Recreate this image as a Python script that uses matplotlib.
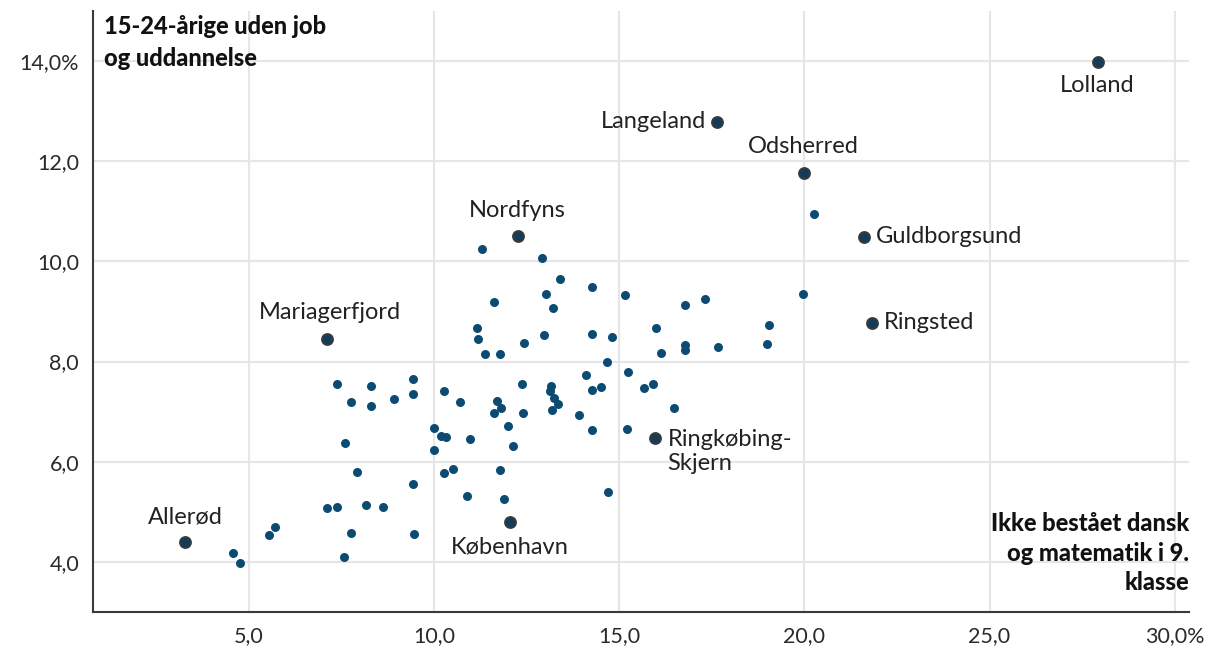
import matplotlib.pyplot as plt

plt.rcParams['font.family'] = ['Lato', 'DejaVu Sans']

# ikke bestaaet dansk og matematik (%), 15-24-aarige uden job og uddannelse (%)
base_x = [7.38, 8.31, 9.43, 7.76, 8.31, 8.91, 9.43, 10.26, 10.69, 9.99, 10.19, 10.33, 10.96,
          7.59, 7.93, 9.43, 10.26, 10.51, 10.90, 7.12, 7.38, 8.15, 8.63, 5.71, 5.55, 7.75,
          9.47, 4.57, 4.76, 7.57, 9.99,
          11.29, 12.91, 13.39, 14.26, 15.15, 13.03, 11.62, 13.20, 16.79, 17.31, 19.05, 19.00,
          11.16, 11.19, 11.37, 11.78, 12.44, 12.98, 14.26, 14.80, 15.99, 16.14, 16.79, 16.78,
          17.66, 14.66, 14.10, 15.24, 14.50, 14.27, 15.66, 15.91, 16.47, 12.37, 13.16, 13.12,
          13.23, 13.34, 13.19, 11.70, 11.80, 11.62, 12.39, 13.91, 12.00, 14.26, 15.21, 12.12,
          11.79, 11.88, 14.71, 20.27, 19.96]
base_y = [7.56, 7.51, 7.65, 7.20, 7.11, 7.25, 7.36, 7.42, 7.19, 6.68, 6.52, 6.50, 6.46,
          6.38, 5.80, 5.55, 5.78, 5.86, 5.31, 5.08, 5.10, 5.13, 5.10, 4.70, 4.54, 4.58,
          4.55, 4.18, 3.98, 4.10, 6.24,
          10.25, 10.07, 9.65, 9.48, 9.32, 9.35, 9.18, 9.07, 9.13, 9.25, 8.72, 8.36,
          8.67, 8.46, 8.15, 8.15, 8.37, 8.54, 8.55, 8.50, 8.66, 8.17, 8.33, 8.23,
          8.29, 8.00, 7.73, 7.80, 7.50, 7.44, 7.48, 7.56, 7.08, 7.55, 7.51, 7.42,
          7.28, 7.16, 7.03, 7.22, 7.08, 6.98, 6.98, 6.94, 6.71, 6.63, 6.66, 6.31,
          5.84, 5.26, 5.40, 10.95, 9.34]

names = ['Lolland', 'Langeland', 'Odsherred', 'Guldborgsund', 'Ringsted', 'Nordfyns',
         'Mariagerfjord', 'Allerød', 'København', 'Ringkøbing-\nSkjern']
hl_x = [27.92, 17.63, 19.98, 21.60, 21.82, 12.26, 7.12, 3.27, 12.04, 15.98]
hl_y = [13.97, 12.79, 11.77, 10.49, 8.77, 10.51, 8.45, 4.40, 4.79, 6.48]

# label placement: (dx px, dy px, ha, va)
label_pos = [(0, -23, 'center', 'center'), (-10, 0, 'right', 'center'),
             (0, 26, 'center', 'center'), (12, 0, 'left', 'center'),
             (12, 0, 'left', 'center'), (0, 25, 'center', 'center'),
             (3, 27, 'center', 'center'), (1, 25, 'center', 'center'),
             (0, -25, 'center', 'center'), (12, -14, 'left', 'center')]

xticks = [5, 10, 15, 20, 25, 30]
xticklabels = ['5,0', '10,0', '15,0', '20,0', '25,0', '30,0%']
yticks = [4, 6, 8, 10, 12, 14]
yticklabels = ['4,0', '6,0', '8,0', '10,0', '12,0', '14,0%']

fig = plt.figure(figsize=(12.15, 6.52), dpi=100)
ax = fig.add_axes([0.0765, 0.0613, 0.9025, 0.922])

ax.scatter(base_x, base_y, s=42, color='#0a4a73', linewidths=0, zorder=3)
ax.scatter(hl_x, hl_y, s=60, color='#0e3d5e', edgecolors='#3a3a3a', linewidths=1.5, zorder=4)

for n, x, y, (dx, dy, ha, va) in zip(names, hl_x, hl_y, label_pos):
    ax.annotate(n, (x, y), xytext=(dx, dy), textcoords='offset pixels',
                ha=ha, va=va, fontsize=17, color='#222222', zorder=5,
                linespacing=1.2)

ax.set_xlim(0.79, 30.4)
ax.set_ylim(3.0, 15.0)
ax.set_xticks(xticks)
ax.set_xticklabels(xticklabels)
ax.set_yticks(yticks)
ax.set_yticklabels(yticklabels)
ax.tick_params(length=0, labelsize=15.5, labelcolor='#2a2a2a', pad=10)

ax.grid(True, color='#e6e6e6', linewidth=1.5, zorder=0)
ax.set_axisbelow(True)
for s in ['top', 'right']:
    ax.spines[s].set_visible(False)
for s in ['left', 'bottom']:
    ax.spines[s].set_color('#3a3a3a')
    ax.spines[s].set_linewidth(1.5)

fig.text(104 / 1215, 1 - 15 / 652, '15-24-årige uden job\nog uddannelse',
         ha='left', va='top', fontsize=17, fontweight='black', color='#111111',
         linespacing=1.45)
ax.text(1.0, 0.03, 'Ikke bestået dansk\nog matematik i 9.\nklasse', transform=ax.transAxes,
        ha='right', va='bottom', fontsize=17, fontweight='black', color='#111111',
        linespacing=1.33, zorder=5)

fig.savefig('out.png', dpi=100)
